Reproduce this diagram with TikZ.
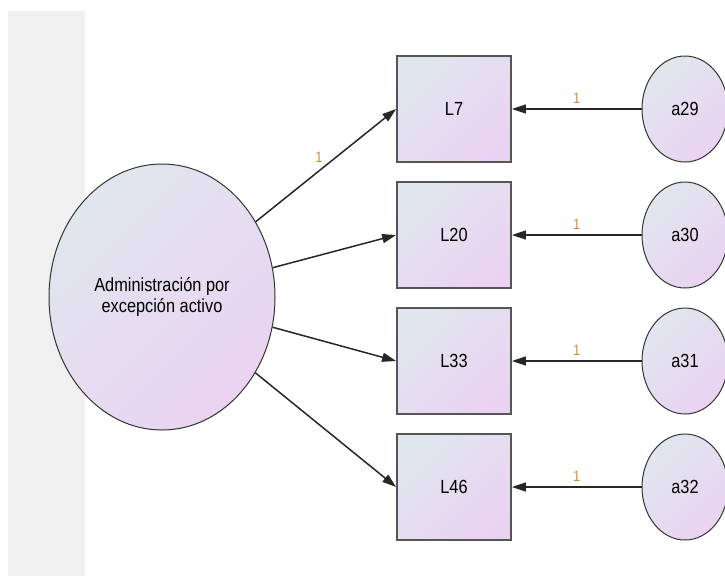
\documentclass[tikz,border=0pt]{standalone}
\usepackage{fontspec}
\setmainfont{Liberation Sans}[FakeStretch=0.86]
\usetikzlibrary{shapes.geometric,arrows.meta}
\definecolor{nenxam}{HTML}{F0F0F0}
\definecolor{toplt}{HTML}{E0E6EE}
\definecolor{botlt}{HTML}{EAD3F2}
\definecolor{vien}{HTML}{555555}
\definecolor{nhan}{HTML}{C8903C}
\begin{document}
\begin{tikzpicture}[x=1pt,y=-1pt,>={Triangle[length=14pt,width=9pt]},
    bien/.style={draw=vien,line width=1.8pt,minimum width=114pt,minimum height=106pt,inner sep=0pt,
        top color=toplt,bottom color=botlt,shading angle=45,font=\fontsize{19}{21}\selectfont},
    tieman/.style={ellipse,draw=black!80,line width=1pt,inner sep=0pt,
        top color=toplt,bottom color=botlt,shading angle=45,font=\fontsize{19}{21}\selectfont},
    mui/.style={->,draw=black!85,line width=1.5pt},
    trongso/.style={font=\fontsize{15}{15}\selectfont,text=nhan,inner sep=2pt}]
    \useasboundingbox (0,0) rectangle (725,576);
    % Nền xám bên trái
    \fill[nenxam] (8,11) rectangle (85,576);
    % Biến tiềm ẩn
    \node[tieman,minimum width=226pt,minimum height=266pt,align=center] (adm) at (162,297)
        {Administración por\\excepción activo};
    % Các biến quan sát và sai số
    \foreach \i/\ten/\ss/\y in {1/L7/a29/109, 2/L20/a30/235, 3/L33/a31/361, 4/L46/a32/487}{
        \node[bien] (obs\i) at (454,\y) {\ten};
        \node[tieman,minimum width=86pt,minimum height=106pt] (err\i) at (685,\y) {\ss};
        \draw[mui] (err\i) -- (obs\i) node[midway,above=3pt,trongso] {1};
    }
    % Hệ số tải
    \draw[mui] (adm) -- (obs1.west) node[pos=0.45,above=6pt,trongso] {1};
    \foreach \i in {2,3,4}
        \draw[mui] (adm) -- (obs\i.west);
\end{tikzpicture}
\end{document}
